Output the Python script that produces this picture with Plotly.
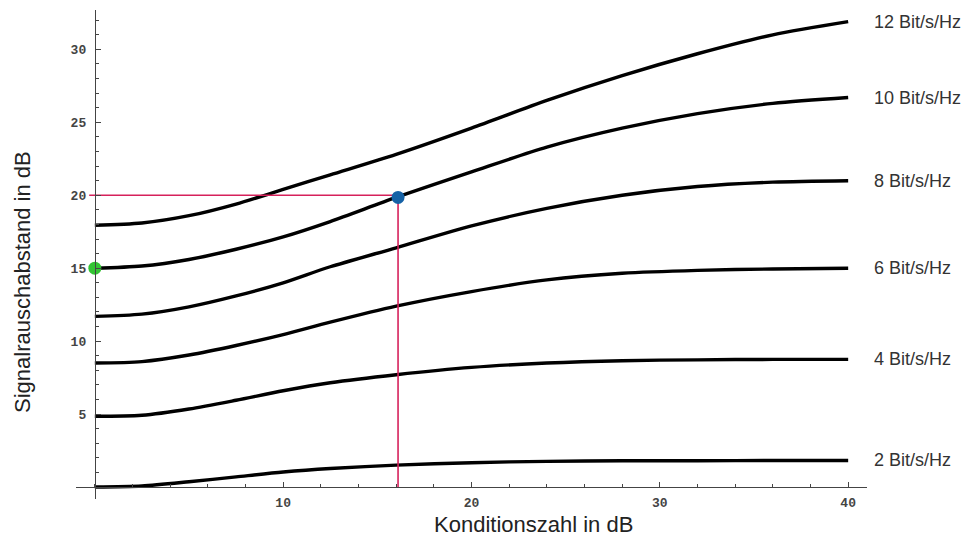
import plotly.graph_objects as go

# ---- data ----
x_vals = [0, 2.5, 5, 7.5, 10, 12.5, 16, 20, 24, 28, 32, 36, 40]
series_names = ["12 Bit/s/Hz", "10 Bit/s/Hz", "8 Bit/s/Hz", "6 Bit/s/Hz", "4 Bit/s/Hz", "2 Bit/s/Hz"]
snr_12 = [17.95, 18.1, 18.6, 19.4, 20.4, 21.4, 22.8, 24.6, 26.5, 28.2, 29.7, 31.0, 31.9]
snr_10 = [15.0, 15.15, 15.6, 16.3, 17.15, 18.2, 19.85, 21.6, 23.3, 24.6, 25.6, 26.3, 26.7]
snr_8 = [11.7, 11.85, 12.35, 13.1, 14.0, 15.1, 16.4, 17.9, 19.1, 20.0, 20.6, 20.9, 21.0]
snr_6 = [8.5, 8.6, 9.05, 9.7, 10.45, 11.3, 12.4, 13.4, 14.2, 14.65, 14.85, 14.95, 15.0]
snr_4 = [4.85, 4.92, 5.35, 5.95, 6.6, 7.15, 7.7, 8.2, 8.5, 8.66, 8.72, 8.75, 8.75]
snr_2 = [0.0, 0.07, 0.36, 0.7, 1.03, 1.27, 1.5, 1.67, 1.76, 1.8, 1.8, 1.82, 1.82]
series_values = [snr_12, snr_10, snr_8, snr_6, snr_4, snr_2]

# highlighted operating points
green_x, green_y = [0], [15]
blue_x, blue_y = [16.1], [19.85]
guide_h_x, guide_h_y = [-0.3, 16.1], [20, 20]
guide_v_x, guide_v_y = [16.1, 16.1], [0, 20]

x_ticks = [10, 20, 30, 40]
y_ticks = [5, 10, 15, 20, 25, 30]
x_range = [-1, 41]
y_range = [-0.82, 32.7]

RED = "#d6215b"

fig = go.Figure()
for name, vals in zip(series_names, series_values):
    fig.add_trace(go.Scatter(x=x_vals, y=vals, mode="lines", name=name,
                             line=dict(color="black", width=3.4, shape="spline", smoothing=0.8),
                             showlegend=False, hoverinfo="skip"))
    fig.add_annotation(x=x_vals[-1], y=vals[-1], text=name, showarrow=False,
                       xanchor="left", yanchor="middle", xshift=24,
                       font=dict(family="Liberation Sans, Arial", size=18, color="#333"))

fig.add_trace(go.Scatter(x=guide_h_x, y=guide_h_y, mode="lines",
                         line=dict(color=RED, width=1.6), showlegend=False))
fig.add_trace(go.Scatter(x=guide_v_x, y=guide_v_y, mode="lines",
                         line=dict(color=RED, width=1.6), showlegend=False))
fig.add_trace(go.Scatter(x=green_x, y=green_y, mode="markers",
                         marker=dict(color="#33c433", size=13), showlegend=False, cliponaxis=False))
fig.add_trace(go.Scatter(x=blue_x, y=blue_y, mode="markers",
                         marker=dict(color="#1662a6", size=13), showlegend=False))

tick_font = dict(family="Liberation Mono, DejaVu Sans Mono", size=13, color="#444", weight="bold")

# the page body has an 8px margin, so the figure is 8px smaller and margins compensate
fig.update_layout(
    width=962, height=531,
    margin=dict(l=68, r=103, t=2, b=40),
    paper_bgcolor="white", plot_bgcolor="white",
    xaxis=dict(range=x_range, showgrid=False, zeroline=False, showline=True,
               linecolor="#444", linewidth=1, anchor="free",
               position=(0 - y_range[0]) / (y_range[1] - y_range[0]),
               tickmode="array", tickvals=x_ticks, ticks="inside", ticklen=5,
               tickcolor="#444", tickfont=tick_font, ticklabelstandoff=3,
               minor=dict(ticks="inside", ticklen=3, dtick=2, tick0=0, tickcolor="#444")),
    yaxis=dict(range=y_range, showgrid=False, zeroline=False, showline=True,
               linecolor="#444", linewidth=1, anchor="free",
               position=(0 - x_range[0]) / (x_range[1] - x_range[0]),
               tickmode="array", tickvals=y_ticks, ticks="inside", ticklen=5,
               tickcolor="#444", tickfont=tick_font, ticklabelstandoff=6,
               minor=dict(ticks="inside", ticklen=3, dtick=1, tick0=0, tickcolor="#444")),
)

fig.add_annotation(text="Konditionszahl in dB", xref="paper", yref="paper",
                   x=(533 - 76) / 791, y=0, yshift=-25,
                   showarrow=False, xanchor="center", yanchor="middle",
                   font=dict(family="Liberation Sans, Arial", size=22, color="#222"))
fig.add_annotation(text="Signalrauschabstand in dB", xref="paper", yref="paper",
                   x=0, xshift=-54, y=(499 - 282) / 489, textangle=-90,
                   showarrow=False, xanchor="center", yanchor="middle",
                   font=dict(family="Liberation Sans, Arial", size=22, color="#222"))

fig.write_html("out.html")
